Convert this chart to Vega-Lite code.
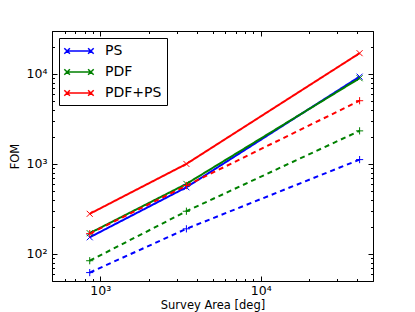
{
  "$schema": "https://vega.github.io/schema/vega-lite/v6.json",
  "autosize": "none",
  "width": 321,
  "height": 250,
  "padding": {"left": 52, "top": 31, "right": 42, "bottom": 31},
  "background": "white",
  "config": {
    "font": "DejaVu Sans",
    "view": {"stroke": "black", "strokeWidth": 1},
    "axis": {"domain": false, "grid": false, "labelFont": "DejaVu Sans", "titleFont": "DejaVu Sans", "labelColor": "black", "titleColor": "black", "tickColor": "black", "labelFontSize": 12.5, "titleFontSize": 11.5, "titleFontWeight": "normal"}
  },
  "data": {"values": [
    {"method": "PS", "case": "A", "area": 859, "fom": 153},
    {"method": "PS", "case": "A", "area": 3438, "fom": 550},
    {"method": "PS", "case": "A", "area": 41253, "fom": 9330},
    {"method": "PDF", "case": "A", "area": 859, "fom": 170},
    {"method": "PDF", "case": "A", "area": 3438, "fom": 600},
    {"method": "PDF", "case": "A", "area": 41253, "fom": 8960},
    {"method": "PDF+PS", "case": "A", "area": 859, "fom": 279},
    {"method": "PDF+PS", "case": "A", "area": 3438, "fom": 1000},
    {"method": "PDF+PS", "case": "A", "area": 41253, "fom": 17000},
    {"method": "PS", "case": "B", "area": 859, "fom": 62},
    {"method": "PS", "case": "B", "area": 3438, "fom": 190},
    {"method": "PS", "case": "B", "area": 41253, "fom": 1117},
    {"method": "PDF", "case": "B", "area": 859, "fom": 84},
    {"method": "PDF", "case": "B", "area": 3438, "fom": 298},
    {"method": "PDF", "case": "B", "area": 41253, "fom": 2330},
    {"method": "PDF+PS", "case": "B", "area": 859, "fom": 168},
    {"method": "PDF+PS", "case": "B", "area": 3438, "fom": 575},
    {"method": "PDF+PS", "case": "B", "area": 41253, "fom": 5040}
  ]},
  "resolve": {"axis": {"x": "independent", "y": "independent"}},
  "layer": [
    {
      "mark": {"type": "line", "strokeWidth": 2, "clip": true},
      "encoding": {
        "x": {"field": "area", "type": "quantitative", "scale": {"type": "log", "domain": [500, 50000], "nice": false},
              "axis": {"orient": "bottom", "values": [1000, 10000], "ticks": false, "labelPadding": 3, "labelExpr": "datum.value == 1000 ? '10³' : '10⁴'", "title": "Survey Area [deg]", "titlePadding": 3}},
        "y": {"field": "fom", "type": "quantitative", "scale": {"type": "log", "domain": [50, 30000], "nice": false},
              "axis": {"orient": "left", "values": [100, 1000, 10000], "ticks": false, "labelPadding": 5, "labelExpr": "datum.value == 100 ? '10²' : datum.value == 1000 ? '10³' : '10⁴'", "title": "FOM", "titlePadding": 6}},
        "color": {"field": "method", "type": "nominal", "sort": ["PS", "PDF", "PDF+PS"],
                  "scale": {"domain": ["PS", "PDF", "PDF+PS"], "range": ["#0000ff", "#008000", "#ff0000"]},
                  "legend": {"orient": "top-left", "offset": 7, "title": null, "fillColor": "white", "strokeColor": "black", "padding": 5, "labelFontSize": 14, "labelFont": "DejaVu Sans", "labelColor": "black", "symbolType": "M-1.7,0H1.7M-2.1,-0.4L-1.3,0.4M-2.1,0.4L-1.3,-0.4M1.3,-0.4L2.1,0.4M1.3,0.4L2.1,-0.4", "symbolSize": 196, "symbolStrokeWidth": 1.5, "symbolOffset": 7, "labelOffset": 18, "rowPadding": 6, "cornerRadius": 0}},
        "strokeDash": {"field": "case", "type": "nominal", "scale": {"domain": ["A", "B"], "range": [[1, 0], [5, 4]]}, "legend": null},
        "detail": {"field": "case"}
      }
    },
    {
      "mark": {"type": "point", "filled": false, "strokeWidth": 1, "size": 36, "opacity": 1},
      "encoding": {
        "x": {"field": "area", "type": "quantitative",
              "axis": {"orient": "bottom", "values": [500, 600, 700, 800, 900, 1000, 2000, 3000, 4000, 5000, 6000, 7000, 8000, 9000, 10000, 20000, 30000, 40000, 50000], "labels": false, "title": null,
                       "tickSize": {"condition": {"test": "datum.value == 1000 || datum.value == 10000", "value": -5}, "value": -2.5}}},
        "y": {"field": "fom", "type": "quantitative",
              "axis": {"orient": "left", "values": [50, 60, 70, 80, 90, 100, 200, 300, 400, 500, 600, 700, 800, 900, 1000, 2000, 3000, 4000, 5000, 6000, 7000, 8000, 9000, 10000, 20000, 30000], "labels": false, "title": null,
                       "tickSize": {"condition": {"test": "datum.value == 100 || datum.value == 1000 || datum.value == 10000", "value": -5}, "value": -2.5}}},
        "color": {"field": "method", "type": "nominal", "legend": null},
        "shape": {"field": "case", "type": "nominal", "scale": {"domain": ["A", "B"], "range": ["M-1,-1L1,1M-1,1L1,-1", "M-1.2,0H1.2M0,-1.2V1.2"]}, "legend": null}
      }
    },
    {
      "mark": {"type": "point", "opacity": 0},
      "encoding": {
        "x": {"field": "area", "type": "quantitative",
              "axis": {"orient": "top", "values": [500, 600, 700, 800, 900, 1000, 2000, 3000, 4000, 5000, 6000, 7000, 8000, 9000, 10000, 20000, 30000, 40000, 50000], "labels": false, "title": null,
                       "tickSize": {"condition": {"test": "datum.value == 1000 || datum.value == 10000", "value": -5}, "value": -2.5}}},
        "y": {"field": "fom", "type": "quantitative",
              "axis": {"orient": "right", "values": [50, 60, 70, 80, 90, 100, 200, 300, 400, 500, 600, 700, 800, 900, 1000, 2000, 3000, 4000, 5000, 6000, 7000, 8000, 9000, 10000, 20000, 30000], "labels": false, "title": null,
                       "tickSize": {"condition": {"test": "datum.value == 100 || datum.value == 1000 || datum.value == 10000", "value": -5}, "value": -2.5}}}
      }
    }
  ]
}
